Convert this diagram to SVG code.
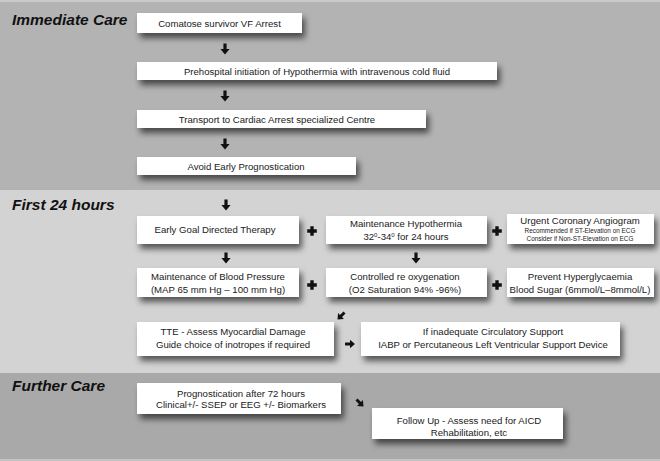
<svg xmlns="http://www.w3.org/2000/svg" xmlns:xlink="http://www.w3.org/1999/xlink" width="660" height="461" viewBox="0 0 660 461">
<style>
.box{fill:#ffffff;filter:url(#sh);}
.t{font-family:"Liberation Sans",Arial,sans-serif;font-size:9.6px;fill:#1a1a1a;text-anchor:middle;}
.s{font-family:"Liberation Sans",Arial,sans-serif;font-size:6.4px;fill:#1a1a1a;text-anchor:middle;}
.h{font-family:"Liberation Sans",Arial,sans-serif;font-size:15.5px;font-weight:bold;font-style:italic;fill:#111;}
.k{fill:#111;}
</style>
<defs>
<filter id="sh" x="-10%" y="-40%" width="130%" height="220%">
<feDropShadow dx="3" dy="5" stdDeviation="3" flood-color="#000" flood-opacity="0.6"/>
</filter>
<path id="ar" d="M-1.6,-5.5 h3.2 v5.5 h3 l-4.6,5.5 l-4.6,-5.5 h3 z"/>
<path id="pl" d="M-1.7,-4.8 h3.4 v3.1 h3.1 v3.4 h-3.1 v3.1 h-3.4 v-3.1 h-3.1 v-3.4 h3.1 z"/>
</defs>
<!-- backgrounds -->
<rect x="0" y="0" width="660" height="190" fill="#b3b3b3"/>
<rect x="0" y="0" width="660" height="2" fill="#cacaca"/>
<rect x="0" y="190" width="660" height="183" fill="#d3d3d3"/>
<rect x="0" y="373" width="660" height="86" fill="#a9a9a9"/>
<rect x="0" y="459" width="660" height="2" fill="#c4c4c4"/>
<text class="h" x="12" y="25">Immediate Care</text>
<text class="h" x="12" y="210">First 24 hours</text>
<text class="h" x="12" y="391">Further Care</text>

<g id="n1"><rect class="box" x="137" y="13" width="165" height="20"/><text class="t" x="219.5" y="26.5">Comatose survivor VF Arrest</text></g>
<g id="n2"><rect class="box" x="137" y="62" width="360" height="18"/><text class="t" x="317" y="74.5">Prehospital  initiation of Hypothermia with intravenous cold fluid</text></g>
<g id="n3"><rect class="box" x="137" y="110" width="289" height="18"/><text class="t" x="277" y="122.5">Transport to Cardiac Arrest specialized Centre</text></g>
<g id="n4"><rect class="box" x="137" y="157" width="219" height="18"/><text class="t" x="246" y="169.5">Avoid Early Prognostication</text></g>

<g id="n5"><rect class="box" x="137" y="216" width="162" height="28"/><text class="t" x="215" y="233">Early Goal Directed Therapy</text></g>
<g id="n6"><rect class="box" x="326" y="216" width="161" height="28"/><text class="t" x="406" y="227">Maintenance Hypothermia</text><text class="t" x="406" y="239.5">32<tspan font-size="6" dy="-3">0</tspan><tspan dy="3">-34</tspan><tspan font-size="6" dy="-3">0</tspan><tspan dy="3"> for 24 hours</tspan></text></g>
<g id="n7"><rect class="box" x="507" y="214" width="147" height="30"/><text class="t" x="580" y="224">Urgent Coronary Angiogram</text><text class="s" x="580" y="233">Recommended if ST-Elevation on ECG</text><text class="s" x="580" y="240.5">Consider if Non-ST-Elevation on ECG</text></g>

<g id="n8"><rect class="box" x="137" y="268" width="162" height="29"/><text class="t" x="218" y="280">Maintenance of Blood Pressure</text><text class="t" x="218" y="293">(MAP 65 mm Hg – 100 mm Hg)</text></g>
<g id="n9"><rect class="box" x="326" y="268" width="161" height="29"/><text class="t" x="405" y="280">Controlled re oxygenation</text><text class="t" x="405" y="293">(O2 Saturation 94% -96%)</text></g>
<g id="n10"><rect class="box" x="507" y="268" width="147" height="29"/><text class="t" x="580" y="280">Prevent Hyperglycaemia</text><text class="t" x="580" y="293">Blood Sugar (6mmol/L–8mmol/L)</text></g>

<g id="n11"><rect class="box" x="137" y="322" width="197" height="34"/><text class="t" x="233" y="335">TTE  - Assess Myocardial Damage</text><text class="t" x="233" y="348">Guide choice of inotropes if required</text></g>
<g id="n12"><rect class="box" x="361" y="322" width="259" height="34"/><text class="t" x="493" y="335">If inadequate Circulatory Support</text><text class="t" x="493" y="348">IABP or Percutaneous Left Ventricular Support Device</text></g>

<g id="n13"><rect class="box" x="137" y="383" width="204" height="31"/><text class="t" x="241" y="396.5">Prognostication  after 72 hours</text><text class="t" x="241" y="408">Clinical+/- SSEP or EEG +/- Biomarkers</text></g>
<g id="n14"><rect class="box" x="372" y="408" width="191" height="31"/><text class="t" x="469" y="424">Follow Up  - Assess need for AICD</text><text class="t" x="469" y="436">Rehabilitation, etc</text></g>

<g id="connectors" class="k">
<use href="#ar" transform="translate(225,49)"/>
<use href="#ar" transform="translate(225,96)"/>
<use href="#ar" transform="translate(225,144)"/>
<use href="#ar" transform="translate(226,205)"/>
<use href="#ar" transform="translate(226,258)"/>
<use href="#ar" transform="translate(416,258)"/>
<use href="#ar" transform="translate(341,316) rotate(45) scale(0.9)"/>
<use href="#ar" transform="translate(350,344) rotate(-90) scale(0.9)"/>
<use href="#ar" transform="translate(360,403) rotate(-45) scale(0.9)"/>
<use href="#pl" transform="translate(312,231)"/>
<use href="#pl" transform="translate(497,231)"/>
<use href="#pl" transform="translate(312,285)"/>
<use href="#pl" transform="translate(497,285)"/>
</g>
</svg>
